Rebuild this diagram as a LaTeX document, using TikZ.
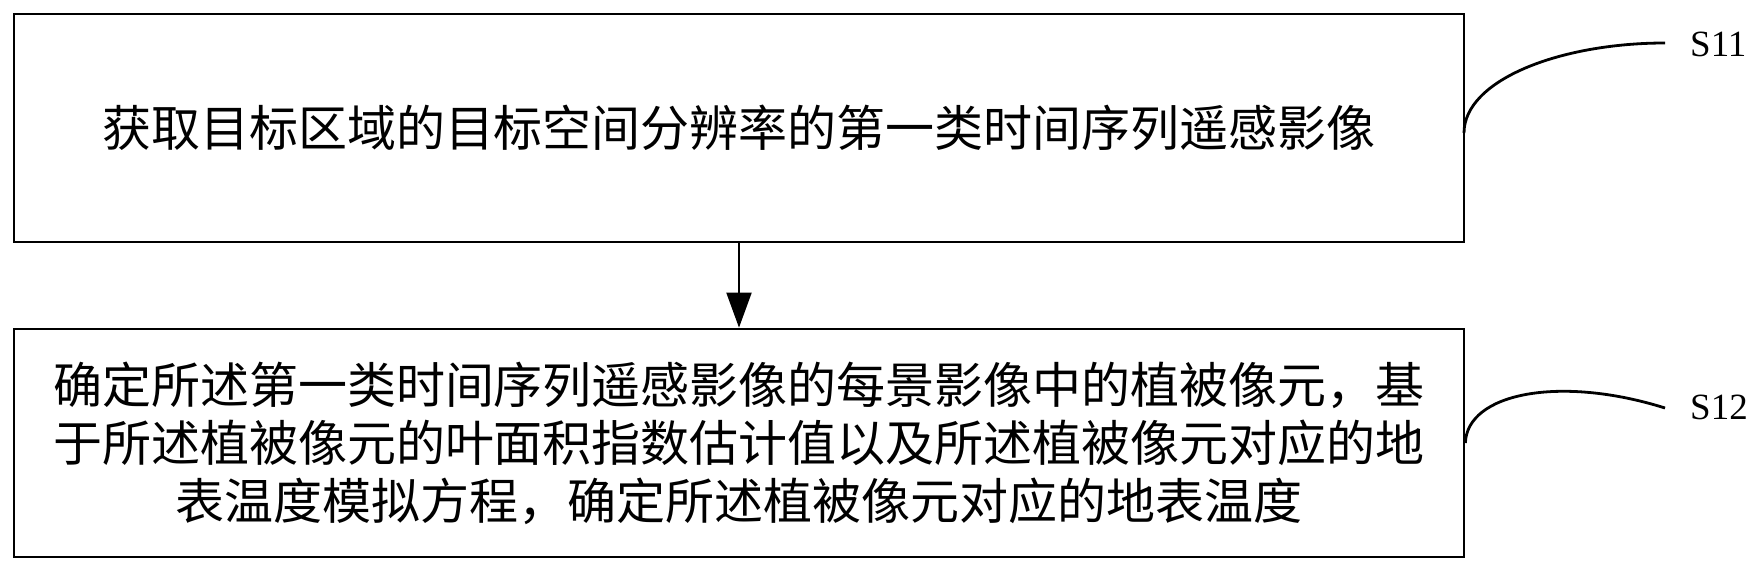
\documentclass[tikz,border=0pt]{standalone}
\usepackage{fontspec}
\setmainfont{Liberation Serif}
\newfontfamily\cjk{Noto Sans CJK SC}
\usetikzlibrary{arrows.meta}
\tikzset{
  stepbox/.style={draw=black, line width=2.7pt, minimum width=1450pt, minimum height=228pt,
    inner sep=0pt, align=center, font=\cjk\fontsize{49}{58}\selectfont},
  leader/.style={draw=black, line width=2.8pt},
  steplabel/.style={anchor=west, inner sep=0pt, font=\fontsize{37}{40}\selectfont},
  flow/.style={draw=black, line width=2pt, -{Triangle[width=25pt,length=35pt]}}
}
\begin{document}
\begin{tikzpicture}[x=1pt,y=-1pt]
\useasboundingbox[fill=white] (0,0) rectangle (1762,575);
\node[stepbox] (b1) at (739,128) {获取目标区域的目标空间分辨率的第一类时间序列遥感影像};
\node[stepbox] (b2) at (739,443) {确定所述第一类时间序列遥感影像的每景影像中的植被像元，基\\于所述植被像元的叶面积指数估计值以及所述植被像元对应的地\\表温度模拟方程，确定所述植被像元对应的地表温度};
\draw[flow] (b1.south) -- (b2.north);
\node[steplabel] (s11) at (1690,44.5) {S11};
\node[steplabel] (s12) at (1690,407) {S12};
\coordinate (e1) at (1665,43);
\coordinate (e2) at (1665,408);
\coordinate (a1) at (1464,133);
\draw[leader] (a1) .. controls (1464,80) and (1560,43) .. (e1);
\draw[leader] (b2.east) .. controls (1467,393) and (1560,375) .. (e2);
\end{tikzpicture}
\end{document}
